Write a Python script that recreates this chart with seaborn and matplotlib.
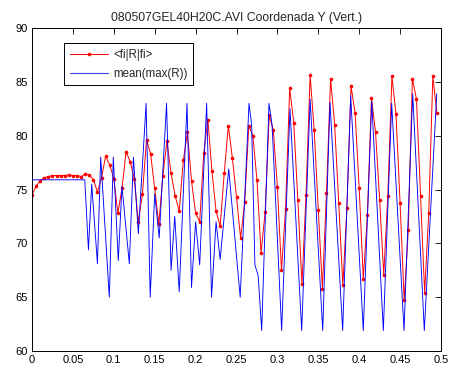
import matplotlib
matplotlib.use("Agg")
import matplotlib.pyplot as plt
from matplotlib.lines import Line2D
import seaborn as sns
import pandas as pd

# <fi|R|fi> sampled every 0.005 s
red_t = [round(0.005 * i, 3) for i in range(100)]
red_y = [74.5, 75.3, 75.8, 76.1, 76.2, 76.3, 76.3, 76.3, 76.3, 76.35,
         76.3, 76.3, 76.2, 76.45, 76.35, 75.9, 74.8, 76.1, 78.1, 77.3,
         76.0, 72.8, 75.1, 78.5, 77.6, 76.0, 72.0, 74.6, 79.6, 78.3,
         75.1, 71.8, 76.3, 79.5, 76.5, 74.4, 73.0, 77.7, 80.3, 75.8,
         72.8, 72.0, 78.4, 81.5, 76.7, 73.0, 71.6, 76.5, 80.9, 77.9,
         74.3, 70.5, 73.8, 80.9, 80.0, 75.9, 69.1, 72.9, 81.9, 80.5,
         75.2, 67.5, 73.2, 84.4, 81.2, 74.0, 66.2, 74.5, 85.6, 80.5,
         73.1, 65.8, 74.7, 85.3, 81.0, 73.7, 66.1, 73.3, 84.6, 82.1,
         75.1, 66.7, 72.6, 83.5, 80.3, 74.0, 67.1, 74.4, 85.5, 82.0,
         73.7, 64.7, 71.2, 85.3, 83.4, 74.4, 65.4, 72.8, 85.5, 82.1]

# mean(max(R)): turning points and shoulders of the curve
blue_t = [0.000, 0.0645, 0.069, 0.073, 0.080, 0.084, 0.0945, 0.0994, 0.1055,
          0.110, 0.119, 0.124, 0.130, 0.1395, 0.1445, 0.150, 0.1555, 0.1645,
          0.170, 0.1745, 0.180, 0.1895, 0.195, 0.200, 0.205, 0.2135, 0.2195,
          0.225, 0.230, 0.2405, 0.2545, 0.2653, 0.2685, 0.2725, 0.2765, 0.2808,
          0.2897, 0.2935, 0.3052, 0.3154, 0.3297, 0.340, 0.3554, 0.3643,
          0.3798, 0.3896, 0.405, 0.4153, 0.4295, 0.4397, 0.4548, 0.4654,
          0.4796, 0.4948]
blue_y = [75.9, 75.9, 69.4, 75.5, 68.1, 78.0, 65.0, 78.0, 68.4,
          75.3, 68.1, 78.0, 70.9, 83.0, 65.0, 74.6, 70.5, 83.0,
          67.5, 72.5, 65.5, 83.0, 65.9, 72.0, 68.0, 83.0, 65.0,
          72.0, 68.5, 76.9, 65.0, 83.0, 81.0, 68.0, 67.0, 61.9,
          83.0, 81.0, 61.9, 82.5, 61.9, 83.4, 61.9, 83.1,
          61.9, 83.7, 61.9, 83.2, 61.9, 83.0, 61.9, 83.9,
          61.9, 83.9]

x_ticks = [0, 0.05, 0.1, 0.15, 0.2, 0.25, 0.3, 0.35, 0.4, 0.45, 0.5]
x_labels = ["0", "0.05", "0.1", "0.15", "0.2", "0.25", "0.3", "0.35", "0.4", "0.45", "0.5"]
y_ticks = [60, 65, 70, 75, 80, 85, 90]

sns.set_style("white")
plt.rcParams["font.family"] = ["Liberation Sans", "DejaVu Sans"]

fig = plt.figure(figsize=(4.5, 3.73), dpi=100)
ax = fig.add_axes([32 / 450, 1 - 351 / 373, 409 / 450, 323 / 373])

red_df = pd.DataFrame({"t": red_t, "y": red_y})
blue_df = pd.DataFrame({"t": blue_t, "y": blue_y})

sns.lineplot(data=red_df, x="t", y="y", ax=ax, color="#ff0000", linewidth=0.7,
             marker="o", markersize=2.6, markeredgewidth=0,
             estimator=None, sort=False, legend=False)
sns.lineplot(data=blue_df, x="t", y="y", ax=ax, color="#0000ff", linewidth=0.65,
             estimator=None, sort=False, legend=False)

ax.set_xlim(0, 0.5)
ax.set_ylim(60, 90)
ax.set_xticks(x_ticks)
ax.set_xticklabels(x_labels)
ax.set_yticks(y_ticks)
ax.set_xlabel("")
ax.set_ylabel("")
ax.tick_params(direction="in", length=4, width=0.6, top=True, right=True,
               labelsize=8, pad=3, colors="black")
for s in ax.spines.values():
    s.set_linewidth(0.7)
    s.set_color("black")

ax.set_title("080507GEL40H20C.AVI Coordenada Y (Vert.)", fontsize=8.8, pad=5)

handles = [
    Line2D([], [], color="#ff0000", linewidth=0.7, marker="o", markersize=2.6,
           markeredgewidth=0, markevery=[1]),
    Line2D([], [], color="#4040ff", linewidth=0.8),
]
leg = ax.legend(handles, ["<fi|R|fi>", "mean(max(R))"], loc="upper left",
                bbox_to_anchor=(32 / 409, 1 - 15 / 323), numpoints=1,
                fontsize=8.3, frameon=True, fancybox=False, framealpha=1,
                edgecolor="black", borderpad=0.5, handlelength=3.3,
                handletextpad=0.45, labelspacing=0.6, borderaxespad=0)
leg.get_frame().set_linewidth(0.7)

fig.savefig("out.png", dpi=100, facecolor="white")
